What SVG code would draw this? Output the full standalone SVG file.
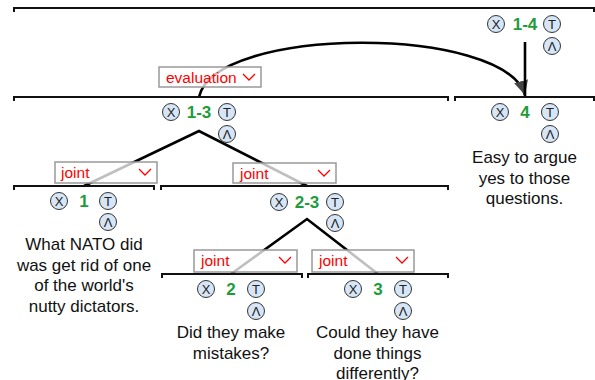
<svg xmlns="http://www.w3.org/2000/svg" width="595" height="380" viewBox="0 0 595 380">
<defs>
<style>
.br{fill:none;stroke:#111;stroke-width:2}
.ln{fill:none;stroke:#000;stroke-width:2.6}
.ci{fill:#d6e6f7;stroke:#333;stroke-width:1}
.cl{font-family:"Liberation Sans",Arial,sans-serif;font-size:13px;fill:#222;text-anchor:middle}
.num{font-family:"Liberation Sans",Arial,sans-serif;font-size:17px;font-weight:bold;fill:#1e9c3c;text-anchor:middle}
.tx{font-family:"Liberation Sans",Arial,sans-serif;font-size:17px;fill:#111;text-anchor:middle}
.rb{fill:#fff;fill-opacity:0.75;stroke:#999;stroke-width:1.5}
.rt{font-family:"Liberation Sans",Arial,sans-serif;font-size:15.5px;fill:#f00}
.chev{fill:none;stroke:#f00;stroke-width:1.3}
</style>
<marker id="ah" viewBox="0 0 10 10" refX="10" refY="5" markerWidth="5.5" markerHeight="5.5" orient="auto" markerUnits="strokeWidth">
<path d="M0,0 L10,5 L0,10 Z" fill="#444"/>
</marker>
</defs>
<rect width="595" height="380" fill="#fff"/>

<g id="connectors">
<path class="ln" d="M199,97 C215,25 505,25 525,95" marker-end="url(#ah)"/>
<line class="ln" x1="525" y1="42" x2="525" y2="97"/>
<polyline class="ln" points="84,186 199,131 307,186"/>
<polyline class="ln" points="231,274 307,219 378,274"/>
</g>

<g id="node-1-4">
<path class="br" d="M14,12 V8 H594 V12"/>
<circle class="ci" cx="496" cy="24" r="8.5"/><text class="cl" x="496" y="28.5">X</text>
<text class="num" x="525" y="30">1-4</text>
<circle class="ci" cx="552" cy="24" r="8.5"/><text class="cl" x="552" y="28.5">T</text>
<circle class="ci" cx="552" cy="46" r="8.5"/><text class="cl" x="552" y="50.5">Λ</text>
</g>

<g id="node-1-3">
<path class="br" d="M14,101 V97 H448 V101"/>
<circle class="ci" cx="171" cy="112" r="8.5"/><text class="cl" x="171" y="116.5">X</text>
<text class="num" x="199" y="118">1-3</text>
<circle class="ci" cx="227" cy="112" r="8.5"/><text class="cl" x="227" y="116.5">T</text>
<circle class="ci" cx="227" cy="134" r="8.5"/><text class="cl" x="227" y="138.5">Λ</text>
</g>

<g id="rel-evaluation">
<rect class="rb" x="159" y="67" width="102" height="20"/>
<text class="rt" x="166" y="82.5">evaluation</text>
<polyline class="chev" points="243,74 249,80 255,74"/>
</g>

<g id="node-4">
<path class="br" d="M455,101 V97 H594 V101"/>
<circle class="ci" cx="500" cy="112" r="8.5"/><text class="cl" x="500" y="116.5">X</text>
<text class="num" x="525" y="118">4</text>
<circle class="ci" cx="550" cy="112" r="8.5"/><text class="cl" x="550" y="116.5">T</text>
<circle class="ci" cx="550" cy="134" r="8.5"/><text class="cl" x="550" y="138.5">Λ</text>
<text class="tx" x="524.5" y="163">Easy to argue</text>
<text class="tx" x="524.5" y="183.5">yes to those</text>
<text class="tx" x="524.5" y="204">questions.</text>
</g>

<g id="node-1">
<path class="br" d="M14,190 V186 H154 V190"/>
<rect class="rb" x="55" y="162" width="102" height="21"/>
<text class="rt" x="61" y="178">joint</text>
<polyline class="chev" points="139,169 145,175 151,169"/>
<circle class="ci" cx="59" cy="201" r="8.5"/><text class="cl" x="59" y="205.5">X</text>
<text class="num" x="84" y="207">1</text>
<circle class="ci" cx="108" cy="201" r="8.5"/><text class="cl" x="108" y="205.5">T</text>
<circle class="ci" cx="108" cy="222" r="8.5"/><text class="cl" x="108" y="226.5">Λ</text>
<text class="tx" x="84" y="250">What NATO did</text>
<text class="tx" x="84" y="270.5">was get rid of one</text>
<text class="tx" x="84" y="291">of the world's</text>
<text class="tx" x="84" y="311.5">nutty dictators.</text>
</g>

<g id="node-2-3">
<path class="br" d="M161,190 V186 H448 V190"/>
<rect class="rb" x="233" y="163" width="103" height="20"/>
<text class="rt" x="240" y="178.5">joint</text>
<polyline class="chev" points="318,170 324,176 330,170"/>
<circle class="ci" cx="279" cy="202" r="8.5"/><text class="cl" x="279" y="206.5">X</text>
<text class="num" x="307" y="208">2-3</text>
<circle class="ci" cx="335" cy="202" r="8.5"/><text class="cl" x="335" y="206.5">T</text>
<circle class="ci" cx="335" cy="223" r="8.5"/><text class="cl" x="335" y="227.5">Λ</text>
</g>

<g id="node-2">
<path class="br" d="M162,278 V274 H302 V278"/>
<rect class="rb" x="194" y="250" width="103" height="22"/>
<text class="rt" x="201" y="266">joint</text>
<polyline class="chev" points="279,257 285,263 291,257"/>
<circle class="ci" cx="206" cy="289" r="8.5"/><text class="cl" x="206" y="293.5">X</text>
<text class="num" x="231" y="295">2</text>
<circle class="ci" cx="256" cy="289" r="8.5"/><text class="cl" x="256" y="293.5">T</text>
<circle class="ci" cx="256" cy="311" r="8.5"/><text class="cl" x="256" y="315.5">Λ</text>
<text class="tx" x="231" y="338">Did they make</text>
<text class="tx" x="231" y="358.5">mistakes?</text>
</g>

<g id="node-3">
<path class="br" d="M308,278 V274 H448 V278"/>
<rect class="rb" x="312" y="250" width="102" height="22"/>
<text class="rt" x="319" y="266">joint</text>
<polyline class="chev" points="396,257 402,263 408,257"/>
<circle class="ci" cx="353" cy="289" r="8.5"/><text class="cl" x="353" y="293.5">X</text>
<text class="num" x="378" y="295">3</text>
<circle class="ci" cx="403" cy="289" r="8.5"/><text class="cl" x="403" y="293.5">T</text>
<circle class="ci" cx="403" cy="311" r="8.5"/><text class="cl" x="403" y="315.5">Λ</text>
<text class="tx" x="377.5" y="338">Could they have</text>
<text class="tx" x="377.5" y="358.5">done things</text>
<text class="tx" x="377.5" y="379">differently?</text>
</g>
</svg>
